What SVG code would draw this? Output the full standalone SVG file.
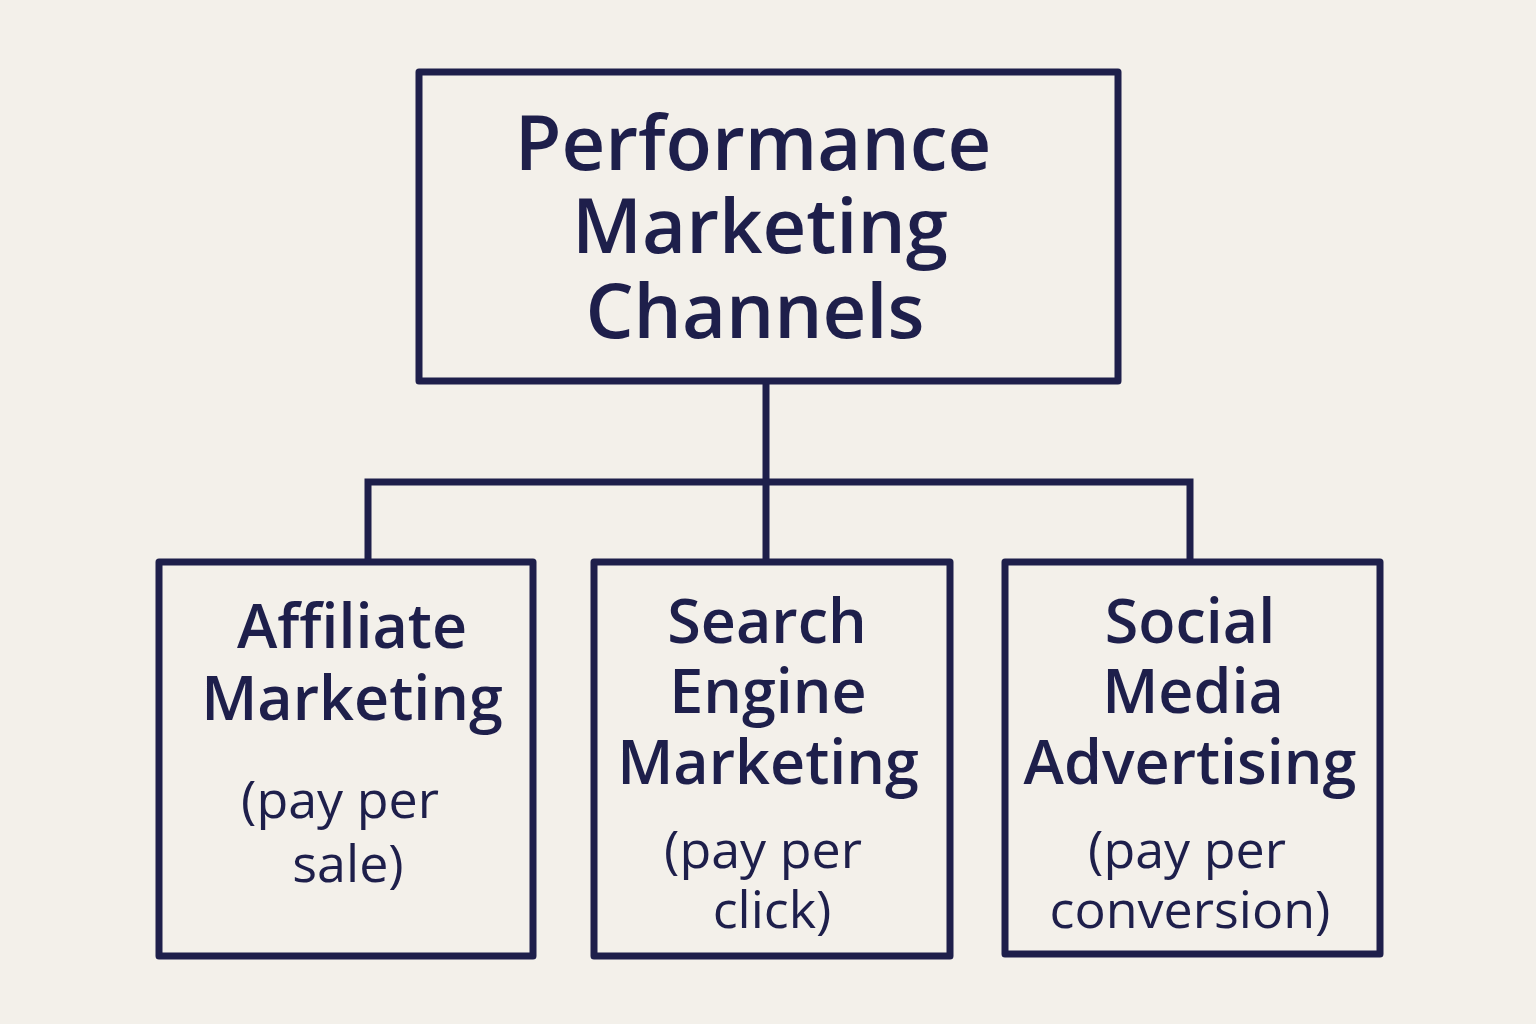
<svg xmlns="http://www.w3.org/2000/svg" width="1536" height="1024" viewBox="0 0 1536 1024">
<style>
.box{fill:none;stroke:#1e1f4b;stroke-width:7;stroke-linejoin:round}
.ln{fill:none;stroke:#1e1f4b;stroke-width:7;stroke-linecap:round}
.t{font-family:"Open Sans","Noto Sans",sans-serif;fill:#1e1f4b;text-anchor:middle;font-weight:600}
.big{font-size:76px}
.mid{font-size:61px}
.sub{font-size:52px;font-weight:500}
</style>
<rect width="1536" height="1024" fill="#f3f0ea"/>
<g id="connectors">
<path class="ln" d="M766 382 V482"/>
<path class="ln" d="M368 560 V482 H1190 V560"/>
<path class="ln" d="M766 482 V560"/>
</g>
<g id="root">
<rect class="box" x="419" y="72" width="699" height="309"/>
<text class="t big" x="753" y="170">Performance</text>
<text class="t big" x="760" y="253">Marketing</text>
<text class="t big" x="755" y="338">Channels</text>
</g>
<g id="affiliate">
<rect class="box" x="159" y="562" width="374" height="394"/>
<text class="t mid" x="352" y="648">Affiliate</text>
<text class="t mid" x="352" y="720">Marketing</text>
<text class="t sub" x="340" y="818">(pay per</text>
<text class="t sub" x="348" y="882">sale)</text>
</g>
<g id="sem">
<rect class="box" x="594" y="562" width="356" height="394"/>
<text class="t mid" x="767" y="643">Search</text>
<text class="t mid" x="768" y="713">Engine</text>
<text class="t mid" x="768" y="784">Marketing</text>
<text class="t sub" x="763" y="868">(pay per</text>
<text class="t sub" x="772" y="928">click)</text>
</g>
<g id="social">
<rect class="box" x="1005" y="562" width="375" height="392"/>
<text class="t mid" x="1190" y="643">Social</text>
<text class="t mid" x="1193" y="713">Media</text>
<text class="t mid" x="1190" y="784">Advertising</text>
<text class="t sub" x="1187" y="868">(pay per</text>
<text class="t sub" x="1190" y="928">conversion)</text>
</g>
</svg>
